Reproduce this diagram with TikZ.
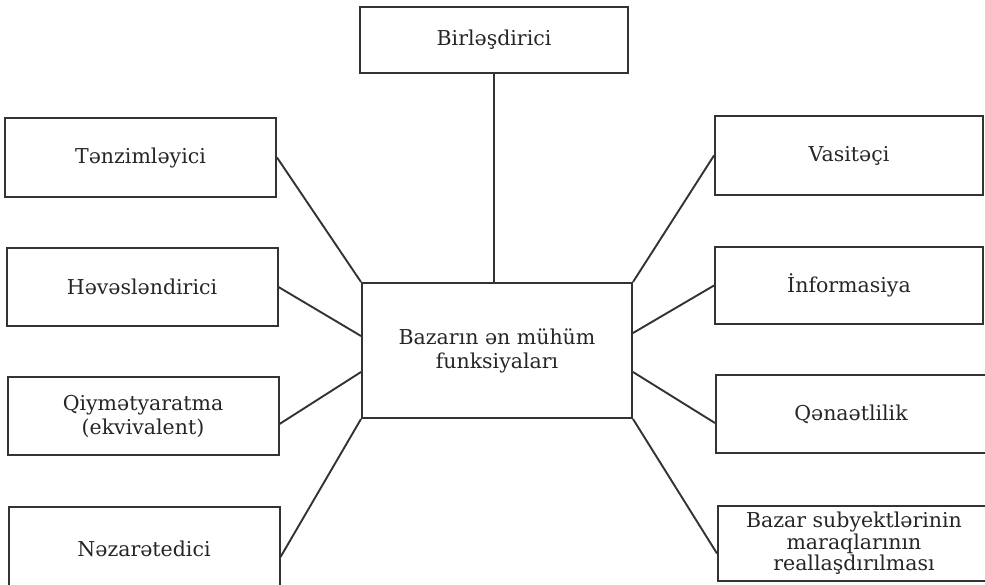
\documentclass[tikz,border=0pt]{standalone}
\usepackage{fontspec}
\setmainfont{DejaVu Serif}
\usepackage{tikz}
\usetikzlibrary{positioning}

\begin{document}
\begin{tikzpicture}[x=10pt,y=10pt]
      \tikzstyle{every node}+=[inner sep=0pt]
      \tikzstyle{funcbox}=[draw=black!80, line width=2pt, text=black!85, align=center,
        font=\fontsize{20.5}{24}\selectfont, minimum width=271pt, minimum height=79pt]
      \tikzstyle{conn}=[draw=black!80, line width=1.9pt]
      \useasboundingbox [fill=white] (0,0) rectangle (98.5,-58.4);
      % top and centre
      \node [funcbox, minimum width=268pt, minimum height=66pt] (birl) at (49.4,-4.0) {Birləşdirici};
      \node [funcbox, minimum width=270pt, minimum height=135pt] (baz) at (49.7,-35.05) {Bazarın ən mühüm\\funksiyaları};
      % left column
      \node [funcbox] (tenz) at (14.05,-15.75) {Tənzimləyici};
      \node [funcbox, minimum height=78pt] (heves) at (14.2,-28.7) {Həvəsləndirici};
      \node [funcbox, minimum height=78pt] (qiym) at (14.3,-41.6) {Qiymətyaratma\\(ekvivalent)};
      \node [funcbox, minimum height=84pt] (nez) at (14.4,-54.9) {Nəzarətedici};
      % right column
      \node [funcbox, minimum width=268pt] (vas) at (84.9,-15.55) {Vasitəçi};
      \node [funcbox, minimum width=268pt, minimum height=77pt] (info) at (84.9,-28.55) {İnformasiya};
      \node [funcbox, minimum width=270pt, minimum height=78pt] (qen) at (85.1,-41.4) {Qənaətlilik};
      \node [funcbox, minimum width=272pt, minimum height=75pt,
        font=\fontsize{20.5}{21.5}\selectfont] (bsub) at (85.4,-54.35) {Bazar subyektlərinin\\maraqlarının\\reallaşdırılması};
      % connectors
      \draw [conn] (birl.south) -- (birl.south |- baz.north);
      \draw [conn] (tenz.east) -- (baz.north west);
      \draw [conn] (heves.east) -- ([yshift=14.5pt]baz.west);
      \draw [conn] ([yshift=-8pt]qiym.east) -- ([yshift=-21.5pt]baz.west);
      \draw [conn] ([yshift=-8pt]nez.east) -- (baz.south west);
      \draw [conn] (vas.west) -- (baz.north east);
      \draw [conn] (info.west) -- ([yshift=17.5pt]baz.east);
      \draw [conn] ([yshift=-9pt]qen.west) -- ([yshift=-21.5pt]baz.east);
      \draw [conn] ([yshift=-10pt]bsub.west) -- (baz.south east);
\end{tikzpicture}
\end{document}
